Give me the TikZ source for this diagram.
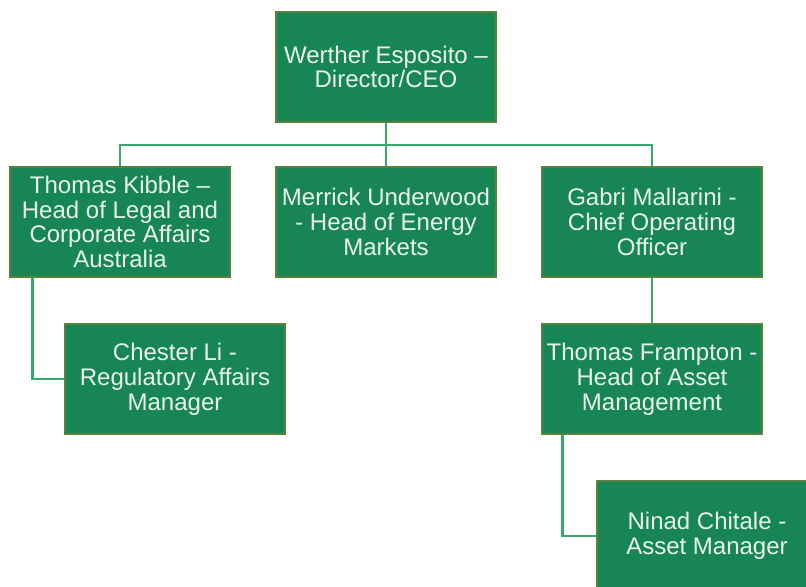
\documentclass[tikz,border=0pt]{standalone}
\usepackage{fontspec}
\setmainfont{Liberation Sans}
\usepackage{tikz}
\usetikzlibrary{positioning}

\definecolor{boxgreen}{RGB}{24,134,84}
\definecolor{edgegreen}{RGB}{88,128,62}
\definecolor{linegreen}{RGB}{58,168,108}
\definecolor{textmint}{RGB}{232,245,236}

\begin{document}
\begin{tikzpicture}
  [x=0.75pt, y=-0.75pt,
   every node/.style={draw=edgegreen, line width=0.8pt, fill=boxgreen,
     text=textmint, align=center, minimum width=165pt, minimum height=82.5pt,
     inner sep=0pt, font=\fontsize{18}{18.6}\selectfont}]

  \tikzstyle{link} = [draw=linegreen, line width=1.6pt]

  \useasboundingbox (0,0) rectangle (806,586);
  \clip (0,0) rectangle (806,586);

  \node (ceo)       at (386,67)  {Werther Esposito --\\Director/CEO};
  \node (kibble)    at (120,222) {Thomas Kibble --\\Head of Legal and\\Corporate Affairs\\Australia};
  \node (underwood) at (386,222) {Merrick Underwood\\- Head of Energy\\Markets};
  \node (mallarini) at (652,222) {Gabri Mallarini -\\Chief Operating\\Officer};
  \node (chester)   at (175,379) {Chester Li -\\Regulatory Affairs\\Manager};
  \node (frampton)  at (652,379) {Thomas Frampton -\\Head of Asset\\Management};
  \node (chitale)   at (707,536) {Ninad Chitale -\\Asset Manager};

  \coordinate (bus) at (386,145);

  \path[link] (ceo) -- (bus)
              (kibble.north) |- (bus) -| (mallarini.north)
              (bus) -- (underwood.north)
              (mallarini) -- (frampton)
              ([xshift=17.25pt]kibble.south west) |- (chester.west)
              ([xshift=15.75pt]frampton.south west) |- (chitale.west);
\end{tikzpicture}
\end{document}
